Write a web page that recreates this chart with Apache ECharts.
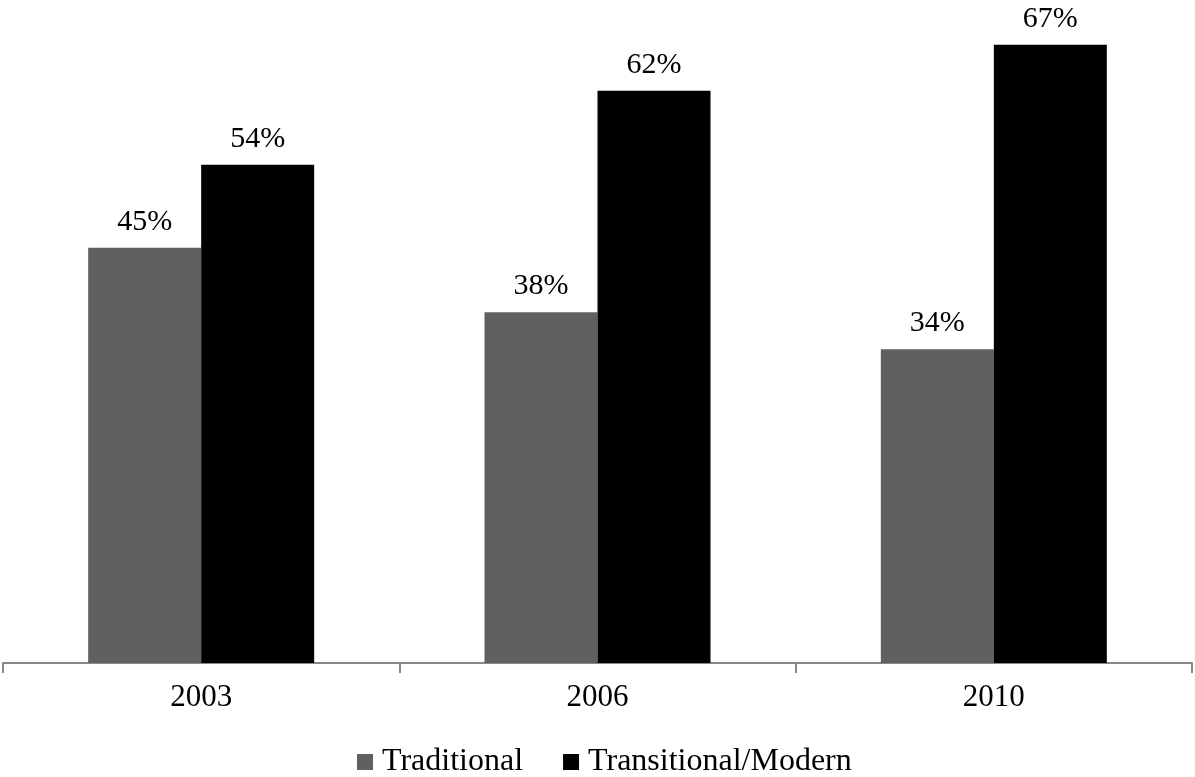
<!DOCTYPE html>
<html>
<head>
<meta charset="utf-8">
<script src="https://cdn.jsdelivr.net/npm/echarts@6/dist/echarts.min.js"></script>
<style>
  html, body { margin: 0; padding: 0; background: #fff; }
  #chart { width: 1195px; height: 777px; }
</style>
</head>
<body>
<div id="chart"></div>
<script>
var years = ['2003', '2006', '2010'];
var traditional = [45, 38, 34];
var modern = [54, 62, 67];

var chart = echarts.init(document.getElementById('chart'));
var font = 'Liberation Serif';
var barLabel = {
    show: true,
    position: 'top',
    distance: 11,
    color: '#000',
    fontFamily: font,
    fontSize: 30,
    formatter: '{c}%'
};

chart.setOption({
    animation: false,
    grid: { left: 3, right: 3, top: 17, bottom: 114 },
    legend: {
        top: 741,
        left: 352,
        itemWidth: 16,
        itemHeight: 16,
        itemGap: 40,
        icon: 'rect',
        textStyle: { fontFamily: font, fontSize: 32, color: '#000', padding: [0, 0, 0, 4] },
        data: ['Traditional', 'Transitional/Modern']
    },
    xAxis: {
        type: 'category',
        data: years,
        axisLine: { lineStyle: { color: '#898989', width: 2 } },
        axisTick: { show: true, length: 10, lineStyle: { color: '#898989', width: 2 } },
        axisLabel: { fontFamily: font, fontSize: 31, color: '#000', margin: 19 }
    },
    yAxis: {
        type: 'value',
        min: 0,
        max: 70,
        show: false,
        splitLine: { show: false }
    },
    series: [
        {
            name: 'Traditional',
            type: 'bar',
            data: traditional,
            barWidth: 113,
            barGap: '0%',
            itemStyle: { color: '#606060' },
            label: barLabel
        },
        {
            name: 'Transitional/Modern',
            type: 'bar',
            data: modern,
            barWidth: 113,
            barGap: '0%',
            itemStyle: { color: '#000000' },
            label: barLabel
        }
    ]
});
</script>
</body>
</html>
